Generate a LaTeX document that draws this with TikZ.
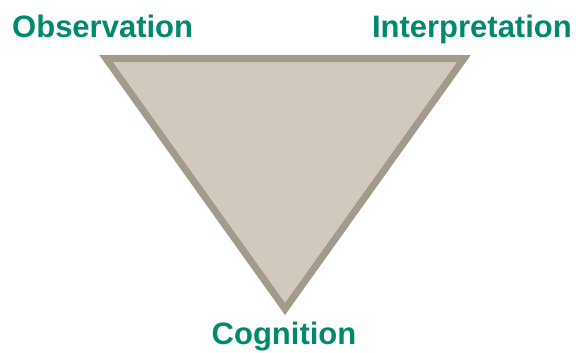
\documentclass[tikz,border=0pt]{standalone}
\usepackage{fontspec}
\setmainfont{Liberation Sans}
\definecolor{labelgreen}{HTML}{00896F}
\definecolor{trifill}{HTML}{D1C9BD}
\definecolor{tristroke}{HTML}{A29A8B}
\tikzset{
  lbl/.style={text=labelgreen, font=\fontsize{31bp}{36bp}\selectfont\bfseries, inner sep=0pt},
  tri/.style={fill=trifill, draw=tristroke, line width=7bp, line join=miter}
}
\begin{document}
\begin{tikzpicture}[x=1bp,y=1bp]
\useasboundingbox (0,0) rectangle (576,352);
\coordinate (tl) at (106,293.5);
\coordinate (tr) at (464,293.5);
\coordinate (bt) at (285,43);
\draw[tri] (tl) -- (tr) -- (bt) -- cycle;
\node[lbl, anchor=base west] (obs) at (12,315) {Observation};
\node[lbl, anchor=base east] (int) at (572,315) {Interpretation};
\node[lbl, anchor=base] (cog) at (284,8) {Cognition};
\end{tikzpicture}
\end{document}
